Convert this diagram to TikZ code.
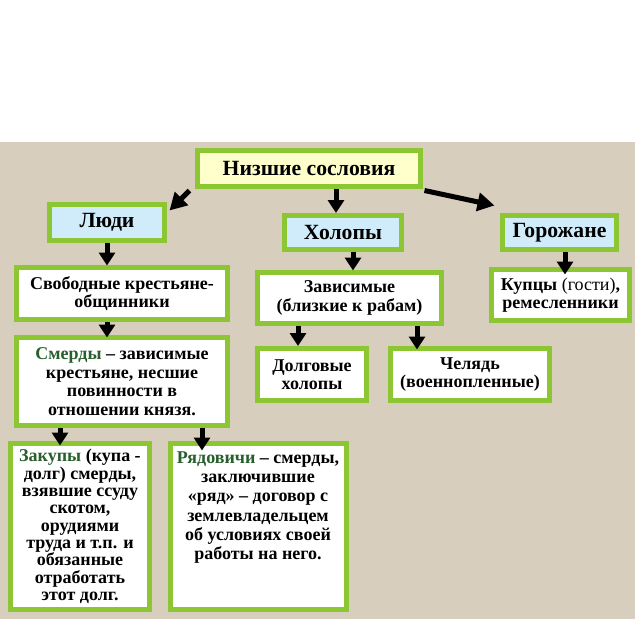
\documentclass[tikz,border=0pt]{standalone}
\usepackage{fontspec}
\setmainfont{Liberation Serif}
\usetikzlibrary{arrows.meta}
\definecolor{leafgreen}{RGB}{140,198,50}
\definecolor{linen}{RGB}{215,206,189}
\definecolor{paleyellow}{RGB}{255,255,204}
\definecolor{paleblue}{RGB}{208,236,250}
\definecolor{termgreen}{RGB}{40,95,45}
\begin{document}
\begin{tikzpicture}[x=1pt, y=-1pt,
    box/.style={draw=leafgreen, line width=5pt, fill=white, align=center, inner sep=2pt,
                font=\bfseries\fontsize{18}{18.5}\selectfont},
    headbox/.style={box, fill=paleblue, font=\bfseries\fontsize{21.7}{24}\selectfont},
    arr/.style={line width=5pt, -{Triangle[length=13pt,width=16pt]}},
    bigarr/.style={line width=5pt, -{Triangle[length=17pt,width=18pt]}}]
                % Page and linen background
                \useasboundingbox (0,0) rectangle (640,640);
                \fill[white] (0,0) rectangle (640,640);
                \fill[linen] (0,142) rectangle (635,619);
                % Top of the scheme
                \node[headbox, fill=paleyellow, minimum width=223pt, minimum height=36pt] (nizh) at (309,168.5) {Низшие сословия};
                \node[headbox, minimum width=115pt, minimum height=36pt] (lyudi) at (107,222.5) {Люди};
                \node[headbox, minimum width=117pt, minimum height=34pt] (holop) at (343,232.5) {Холопы};
                \node[headbox, minimum width=114pt, minimum height=34pt] (gorozh) at (559.5,232.5) {Горожане};
                % Second row
                \node[box, minimum width=211pt, minimum height=52pt] (svob) at (122,293.5) {Свободные крестьяне-\\общинники};
                \node[box, minimum width=184pt, minimum height=51pt] (zavis) at (349.5,298) {Зависимые\\(близкие к рабам)};
                \node[box, minimum width=138pt, minimum height=51pt] (kupcy) at (560.5,295) {Купцы {\mdseries(гости)},\\ремесленники};
                % Third row
                \node[box, minimum width=211pt, minimum height=88pt] (smerdy) at (122,381.5)
                    {{\color{termgreen}Смерды} – зависимые\\крестьяне, несшие\\повинности в\\отношении князя.};
                \node[box, minimum width=109pt, minimum height=52pt] (dolg) at (312,374.5) {Долговые\\холопы};
                \node[box, minimum width=159pt, minimum height=52pt] (chel) at (470,374.5) {Челядь\\(военнопленные)};
                % Bottom row
                \node[box, minimum width=139pt, minimum height=166pt, font=\bfseries\fontsize{18}{17.3}\selectfont] (zakupy) at (80,526.5)
                    {{\color{termgreen}Закупы} (купа -\\долг) смерды,\\взявшие ссуду\\скотом,\\орудиями\\труда и т.п. и\\обязанные\\отработать\\этот долг.};
                \node[box, minimum width=175pt, minimum height=166pt, font=\bfseries\fontsize{18}{19.3}\selectfont] (ryad) at (258,526.5)
                    {\parbox[c][158pt][t]{172pt}{\centering\vspace*{4pt}{\color{termgreen}Рядовичи} – смерды,\\заключившие\\«ряд» – договор с\\землевладельцем\\об условиях своей\\работы на него.}};
                % Slanted arrows
                \draw[bigarr] ([xshift=-5.5pt,yshift=-1.5pt]nizh.south west) -- ([xshift=2.5pt,yshift=-8.5pt]lyudi.north east);
                \draw[bigarr] ([xshift=1.5pt,yshift=-1.5pt]nizh.south east) -- ([xshift=-5.5pt,yshift=7.5pt]gorozh.north west);
                % Straight arrows down
                \foreach \a/\b/\dx/\ext in {nizh/holop/-7/0, lyudi/svob/-15/0.5, holop/zavis/3.5/0.5, gorozh/kupcy/4.5/7.5,
                        svob/smerdy/-15/2.5, zavis/dolg/-14/0, zavis/chel/-53/3.5, smerdy/zakupy/-20/4.5, smerdy/ryad/-56/9.5}
                    \draw[arr, shorten >=-\ext pt] ([xshift=\dx pt]\b.north |- \a.south) -- ([xshift=\dx pt]\b.north);
\end{tikzpicture}
\end{document}
